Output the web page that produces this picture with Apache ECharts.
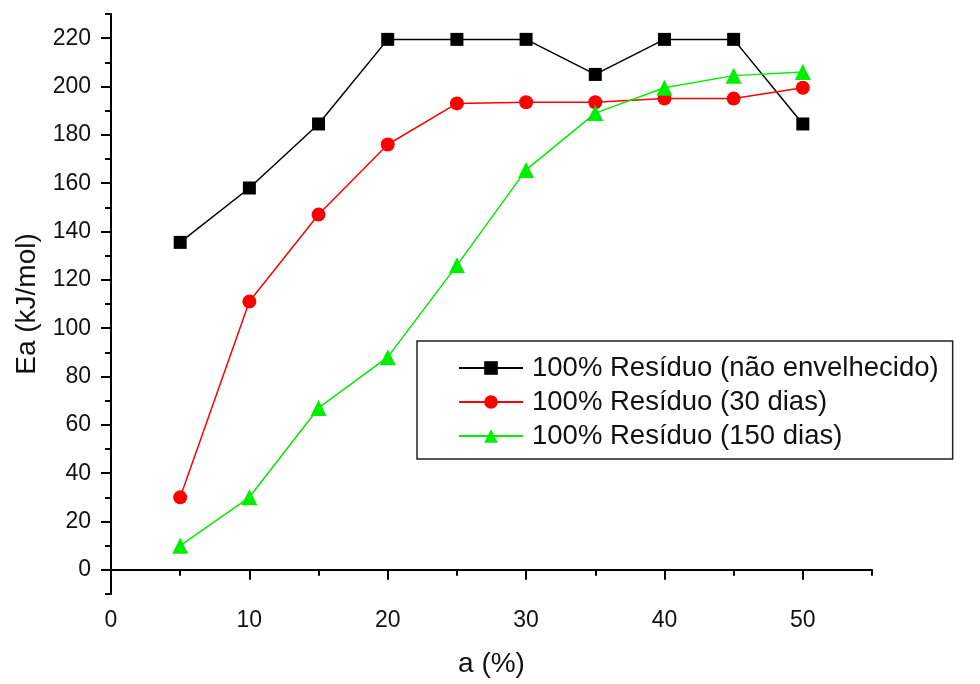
<!DOCTYPE html>
<html lang="pt">
<head>
    <meta charset="UTF-8"/>
    <title>Ea vs a</title>
    <script src="https://cdn.jsdelivr.net/npm/echarts@6/dist/echarts.min.js"></script>
    <style>
        html, body { margin: 0; padding: 0; background: #fff; }
        #main { width: 980px; height: 684px; }
    </style>
</head>
<body>
<div id="main"></div>
<script type="text/javascript">
    // dados
    var alpha = [5, 10, 15, 20, 25, 30, 35, 40, 45, 50];
    var naoEnvelhecido = [135.5, 158, 184.5, 219.5, 219.5, 219.5, 205, 219.5, 219.5, 184.5];
    var dias30 = [30, 111, 147, 176, 193, 193.5, 193.5, 195, 195, 199.5];
    var dias150 = [10, 30, 67, 88, 126, 165.5, 189, 199.5, 204.5, 206];
    var seriesNames = ['100% Resíduo (não envelhecido)', '100% Resíduo (30 dias)', '100% Resíduo (150 dias)'];

    var xTickLabels = [0, 10, 20, 30, 40, 50];
    var xMinorTicks = [5, 15, 25, 35, 45, 55];
    var yTickLabels = [0, 20, 40, 60, 80, 100, 120, 140, 160, 180, 200, 220];
    var yMinorTicks = [-10, 10, 30, 50, 70, 90, 110, 130, 150, 170, 190, 210, 230];

    function pares(ys) {
        return alpha.map(function (x, i) { return [x, ys[i]]; });
    }

    var fonte = 'Liberation Sans, Arial, sans-serif';
    var myChart = echarts.init(document.getElementById('main'));

    var option = {
        animation: false,
        backgroundColor: '#fff',
        grid: { left: 111, right: 108, top: 14, bottom: 90 },
        legend: {
            orient: 'vertical',
            left: 417,
            top: 341,
            padding: [13, 14, 9, 41],
            itemGap: 6,
            itemWidth: 64,
            itemHeight: 17,
            backgroundColor: '#fff',
            borderColor: '#222',
            borderWidth: 1.5,
            borderRadius: 0,
            textStyle: { fontFamily: fonte, fontSize: 27.5, color: '#111', padding: [0, 0, 0, 4] },
            data: seriesNames
        },
        xAxis: [
            {
                type: 'value', min: 0, max: 55,
                name: 'a (%)', nameLocation: 'middle', nameGap: 56,
                nameTextStyle: { fontFamily: fonte, fontSize: 28, color: '#111' },
                axisLine: { lineStyle: { color: '#000', width: 2 } },
                axisTick: { customValues: xTickLabels, length: 10, lineStyle: { color: '#000', width: 2 } },
                axisLabel: { customValues: xTickLabels, margin: 15, fontFamily: fonte, fontSize: 23, color: '#111' },
                splitLine: { show: false }
            },
            {
                type: 'value', min: 0, max: 55, position: 'bottom',
                axisLine: { show: false },
                axisTick: { customValues: xMinorTicks, length: 6, lineStyle: { color: '#000', width: 2 } },
                axisLabel: { show: false },
                splitLine: { show: false }
            }
        ],
        yAxis: [
            {
                type: 'value', min: -10, max: 230,
                name: 'Ea (kJ/mol)', nameLocation: 'middle', nameGap: 68,
                nameTextStyle: { fontFamily: fonte, fontSize: 28, color: '#111' },
                axisLine: { show: true, lineStyle: { color: '#000', width: 2 } },
                axisTick: { show: true, customValues: yTickLabels, length: 10, lineStyle: { color: '#000', width: 2 } },
                axisLabel: { customValues: yTickLabels, margin: 20, fontFamily: fonte, fontSize: 23, color: '#111' },
                splitLine: { show: false }
            },
            {
                type: 'value', min: -10, max: 230, position: 'left',
                axisLine: { show: false },
                axisTick: { show: true, customValues: yMinorTicks, length: 6, lineStyle: { color: '#000', width: 2 } },
                axisLabel: { show: false },
                splitLine: { show: false }
            }
        ],
        series: [
            {
                name: seriesNames[0], type: 'line', data: pares(naoEnvelhecido),
                symbol: 'rect', symbolSize: 13,
                itemStyle: { color: '#000' },
                lineStyle: { color: '#000', width: 1.5 }
            },
            {
                name: seriesNames[1], type: 'line', data: pares(dias30),
                symbol: 'circle', symbolSize: 14,
                itemStyle: { color: '#ff0000' },
                lineStyle: { color: '#ff0000', width: 1.5 }
            },
            {
                name: seriesNames[2], type: 'line', data: pares(dias150),
                symbol: 'triangle', symbolSize: 16,
                itemStyle: { color: '#00ee00' },
                lineStyle: { color: '#00ee00', width: 1.5 }
            }
        ]
    };

    myChart.setOption(option);
</script>
</body>
</html>
